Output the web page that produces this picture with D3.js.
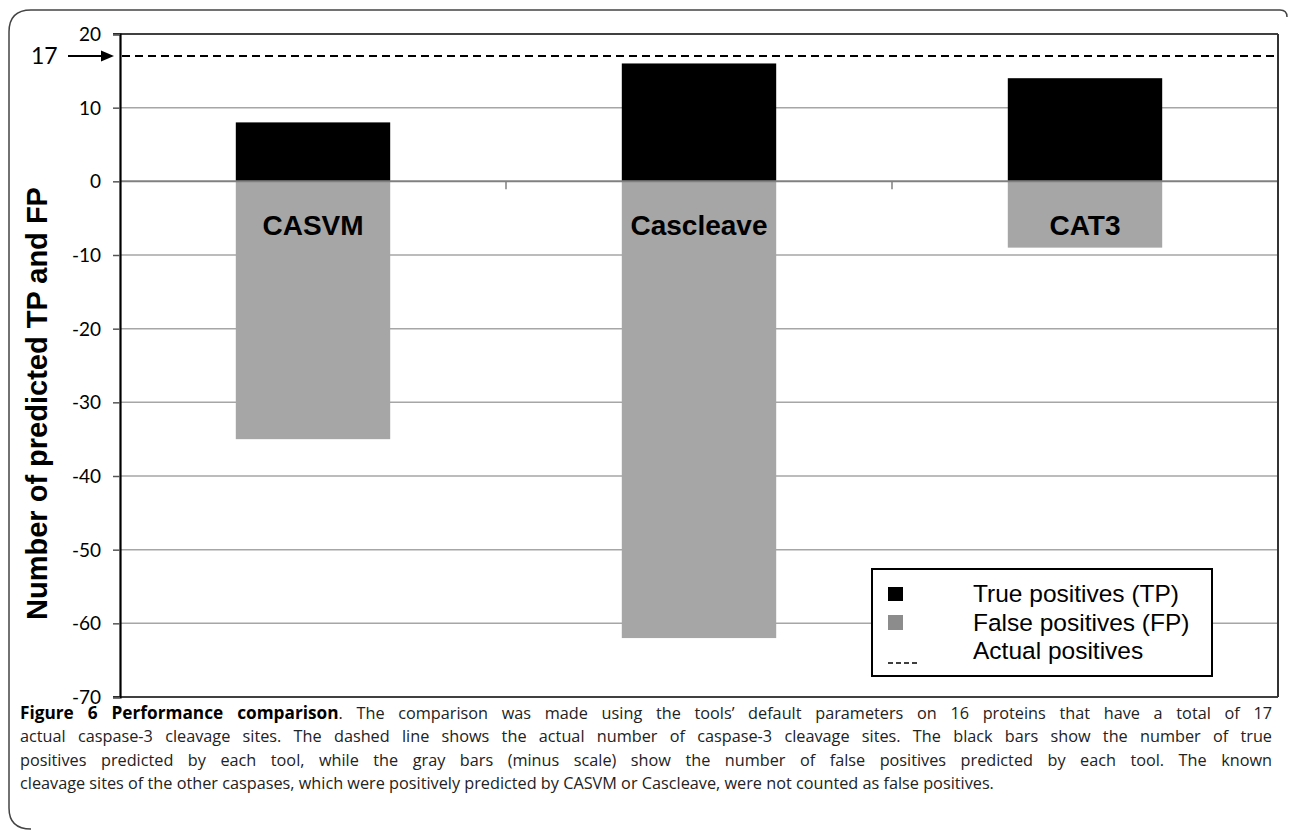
<!DOCTYPE html>
<html><head><meta charset="utf-8">
<script src="https://cdnjs.cloudflare.com/ajax/libs/d3/7.8.5/d3.min.js"></script>
<style>html,body{margin:0;padding:0;background:#fff;}svg{display:block;}</style>
</head><body>
<svg id="c" width="1290" height="830"></svg>
<script>
const categories = ["CASVM", "Cascleave", "CAT3"];
const truePositives = [8, 16, 14];
const falsePositives = [35, 62, 9];
const actualPositives = 17;
const yTicks = [20, 10, 0, -10, -20, -30, -40, -50, -60, -70];
const legendLabels = ["True positives (TP)", "False positives (FP)", "Actual positives"];
const captionBold = "Figure 6 Performance comparison";
const captionLines = [
  ". The comparison was made using the tools\u2019 default parameters on 16 proteins that have a total of 17",
  "actual caspase-3 cleavage sites. The dashed line shows the actual number of caspase-3 cleavage sites. The black bars show the number of true",
  "positives predicted by each tool, while the gray bars (minus scale) show the number of false positives predicted by each tool. The known",
  "cleavage sites of the other caspases, which were positively predicted by CASVM or Cascleave, were not counted as false positives."
];

const svg = d3.select("#c");
const L = 120, R = 1278, T = 34, B = 697;
const y = d3.scaleLinear().domain([-70, 20]).range([B, T]);
const x = d3.scaleBand().domain(categories).range([L, R]).padding(0);
const bw = x.bandwidth() * 0.4;
const bx = c => x(c) + (x.bandwidth() - bw) / 2;

// outer frame
svg.append("path")
  .attr("d", "M1287,17 Q1287,10 1280,10 L31,10 Q9,10 9,32 L9,808 Q9,829 31,829")
  .attr("fill", "none").attr("stroke", "#444").attr("stroke-width", 1.5);

// gridlines
svg.append("g").selectAll("line").data(yTicks.filter(v => v !== 0 && v !== 20 && v !== -70)).join("line")
  .attr("x1", L).attr("x2", R).attr("y1", d => y(d)).attr("y2", d => y(d))
  .attr("stroke", "#a6a6a6").attr("stroke-width", 1.5);

// bars
const data = categories.map((c, i) => ({c, tp: truePositives[i], fp: falsePositives[i]}));
svg.append("g").selectAll("rect").data(data).join("rect")
  .attr("x", d => bx(d.c)).attr("width", bw)
  .attr("y", d => y(d.tp)).attr("height", d => y(0) - y(d.tp))
  .attr("fill", "#000");
svg.append("g").selectAll("rect").data(data).join("rect")
  .attr("x", d => bx(d.c)).attr("width", bw)
  .attr("y", y(0)).attr("height", d => y(-d.fp) - y(0))
  .attr("fill", "#a6a6a6");

// zero line
svg.append("line").attr("x1", L).attr("x2", R).attr("y1", y(0)).attr("y2", y(0))
  .attr("stroke", "#808080").attr("stroke-width", 2);
// category ticks
svg.append("g").selectAll("line").data(categories.slice(1)).join("line")
  .attr("x1", d => x(d)).attr("x2", d => x(d)).attr("y1", y(0)).attr("y2", y(0) + 8)
  .attr("stroke", "#808080").attr("stroke-width", 1.5);

// category labels
svg.append("g").selectAll("text").data(categories).join("text")
  .attr("x", d => x(d) + x.bandwidth() / 2).attr("y", 235)
  .attr("text-anchor", "middle")
  .attr("font-family", "Liberation Sans, Arial, sans-serif").attr("font-weight", "bold")
  .attr("font-size", 28).attr("fill", "#000").text(d => d);

// plot borders
svg.append("line").attr("x1", L - 7).attr("x2", R).attr("y1", T).attr("y2", T).attr("stroke", "#000").attr("stroke-width", 1.5);
svg.append("line").attr("x1", L - 7).attr("x2", R).attr("y1", B).attr("y2", B).attr("stroke", "#000").attr("stroke-width", 1.5);
svg.append("line").attr("x1", R).attr("x2", R).attr("y1", T).attr("y2", B).attr("stroke", "#333").attr("stroke-width", 2);

// y axis
const yAxis = d3.axisLeft(y).tickValues(yTicks).tickSize(7).tickPadding(12).tickFormat(d3.format("d"));
const ga = svg.append("g").attr("transform", `translate(${L},0)`).call(yAxis);
ga.select(".domain").attr("stroke", "#000").attr("stroke-width", 2.2);
ga.selectAll(".tick line").attr("stroke", "#555").attr("stroke-width", 1.5);
ga.selectAll(".tick text").attr("font-family", "Lato, sans-serif").attr("font-size", 19).attr("fill", "#000")
  .attr("dy", "0.34em")
  .text(d => d < 0 ? "-" + Math.abs(d) : d);

// dashed actual positives line
svg.append("line").attr("x1", L + 2).attr("x2", R).attr("y1", y(actualPositives)).attr("y2", y(actualPositives))
  .attr("stroke", "#000").attr("stroke-width", 2).attr("stroke-dasharray", "8,5");

// 17 + arrow
svg.append("text").attr("x", 31).attr("y", y(actualPositives) + 8)
  .attr("font-family", "Lato, sans-serif").attr("font-size", 23).attr("fill", "#000").text(actualPositives);
svg.append("line").attr("x1", 68).attr("x2", 103).attr("y1", y(actualPositives)).attr("y2", y(actualPositives))
  .attr("stroke", "#000").attr("stroke-width", 2);
svg.append("path").attr("d", `M101,${y(actualPositives) - 5.5} L114,${y(actualPositives)} L101,${y(actualPositives) + 5.5} Z`).attr("fill", "#000");

// y label
svg.append("text").attr("transform", `translate(47,${(185 + 622) / 2}) rotate(-90)`)
  .attr("text-anchor", "middle")
  .attr("font-family", "Liberation Sans, Arial, sans-serif").attr("font-weight", "bold")
  .attr("font-size", 29).attr("fill", "#000").text("Number of predicted TP and FP");

// legend
const lg = svg.append("g");
lg.append("rect").attr("x", 872).attr("y", 569).attr("width", 340).attr("height", 107)
  .attr("fill", "#fff").attr("stroke", "#000").attr("stroke-width", 2);
const rowsY = [602, 631, 659];
lg.append("rect").attr("x", 888).attr("y", 587).attr("width", 15).attr("height", 14).attr("fill", "#000");
lg.append("rect").attr("x", 888).attr("y", 615).attr("width", 15).attr("height", 15).attr("fill", "#8c8c8c");
lg.append("line").attr("x1", 888).attr("x2", 917).attr("y1", 663).attr("y2", 663)
  .attr("stroke", "#000").attr("stroke-width", 1.5).attr("stroke-dasharray", "5,3");
lg.selectAll("text").data(legendLabels).join("text")
  .attr("x", 973).attr("y", (d, i) => rowsY[i])
  .attr("font-family", "Liberation Sans, Arial, sans-serif").attr("font-size", 24.5).attr("fill", "#000").text(d => d);

// caption
const capX = 20, capW = 1252, lastW = 975;
const capBase = [719, 742, 766, 789];
const cap = svg.append("g").attr("font-family", "Open Sans, sans-serif").attr("fill", "#222");
const probe = cap.append("text").attr("font-size", 20).text(captionLines[3]);
const fs = 20 * lastW / probe.node().getComputedTextLength();
probe.remove();
captionLines.forEach((ln, i) => {
  const t = cap.append("text").attr("x", capX).attr("y", capBase[i]).attr("font-size", fs);
  if (i === 0) {
    t.append("tspan").attr("font-weight", "bold").attr("font-size", fs * 1.06).attr("fill", "#000").text(captionBold);
  }
  t.append("tspan").text(ln);
  if (i < 3) {
    const w = t.node().getComputedTextLength();
    const full = (i === 0 ? captionBold : "") + ln;
    const spaces = (full.match(/ /g) || []).length;
    t.attr("word-spacing", Math.max(0, (capW - w) / spaces));
  }
});
</script>
</body></html>
